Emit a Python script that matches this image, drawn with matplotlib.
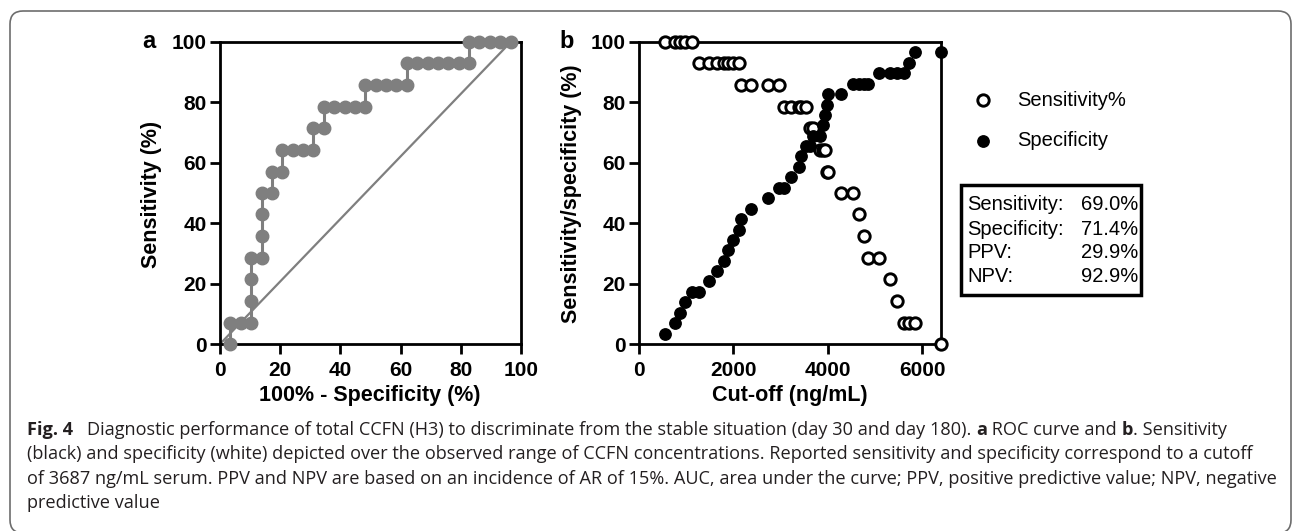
import matplotlib.pyplot as plt
from matplotlib.patches import FancyBboxPatch, Rectangle
from matplotlib.transforms import IdentityTransform

# ROC curve (panel a): 100% - specificity vs sensitivity
roc_fpr = [3.45, 3.45, 6.9, 10.3, 10.3, 10.3, 10.3, 13.8, 13.8, 13.8, 13.8, 17.2, 17.2,
           20.7, 20.7, 24.1, 27.6, 31.0, 31.0, 34.5, 34.5, 37.9, 41.4, 44.8, 48.3, 48.3,
           51.7, 55.2, 58.6, 62.1, 62.1, 65.5, 69.0, 72.4, 75.9, 79.3, 82.8, 82.8, 86.2,
           89.7, 93.1, 96.6]
roc_tpr = [0, 7.1, 7.1, 7.1, 14.3, 21.4, 28.6, 28.6, 35.7, 42.9, 50, 50, 57.1,
           57.1, 64.3, 64.3, 64.3, 64.3, 71.4, 71.4, 78.6, 78.6, 78.6, 78.6, 78.6, 85.7,
           85.7, 85.7, 85.7, 85.7, 92.9, 92.9, 92.9, 92.9, 92.9, 92.9, 92.9, 100, 100,
           100, 100, 100]

# panel b: cut-off values (ng/mL) with sensitivity and specificity (%)
cutoffs = [545, 758, 864, 977, 1126, 1274, 1487, 1657, 1798, 1876, 1997, 2110, 2152,
           2372, 2740, 2967, 3073, 3221, 3391, 3427, 3533, 3625, 3696, 3837, 3908, 3944,
           3979, 4014, 4283, 4545, 4652, 4758, 4843, 5091, 5324, 5466, 5607, 5714, 5855,
           6390]
sensitivity = [100, 100, 100, 100, 100, 92.9, 92.9, 92.9, 92.9, 92.9, 92.9, 92.9, 85.7,
               85.7, 85.7, 85.7, 78.6, 78.6, 78.6, 78.6, 78.6, 71.4, 71.4, 64.3, 64.3, 64.3,
               57.1, 57.1, 50, 50, 42.9, 35.7, 28.6, 28.6, 21.4, 14.3, 7.1, 7.1, 7.1, 0]
specificity = [3.4, 6.9, 10.3, 13.8, 17.2, 17.2, 20.7, 24.1, 27.6, 31.0, 34.5, 37.9, 41.4,
               44.8, 48.3, 51.7, 51.7, 55.2, 58.6, 62.1, 65.5, 65.5, 69.0, 69.0, 72.4, 75.9,
               79.3, 82.8, 82.8, 86.2, 86.2, 86.2, 86.2, 89.7, 89.7, 89.7, 89.7, 93.1, 96.6,
               96.6]

stats_names = ["Sensitivity:", "Specificity:", "PPV:", "NPV:"]
stats_values = ["69.0%", "71.4%", "29.9%", "92.9%"]

W, H = 1293, 531
plt.rcParams["font.family"] = ["Liberation Sans", "DejaVu Sans"]
fig = plt.figure(figsize=(W / 100, H / 100), dpi=100)


def px(x0, y0, x1, y1):
    return [x0 / W, 1 - y1 / H, (x1 - x0) / W, (y1 - y0) / H]


def at(x, y):
    # pixel position (from top-left) -> figure fraction
    return x / W, 1 - y / H


def style_axes(ax):
    for s in ax.spines.values():
        s.set_linewidth(2)
    ax.tick_params(axis="both", direction="out", length=7.5, width=2, labelsize=15)
    ax.tick_params(axis="x", pad=5)
    ax.tick_params(axis="y", pad=2)
    for lab in ax.get_xticklabels() + ax.get_yticklabels():
        lab.set_fontweight("bold")


grey = "#7f7f7f"
lab_kw = dict(fontsize=15.5, fontweight="bold", ha="center", va="center")

# panel a
ax1 = fig.add_axes(px(220, 42, 521, 344))
ax1.plot([0, 96.6], [0, 100], color=grey, lw=1.6)
ax1.plot(roc_fpr, roc_tpr, color=grey, lw=2.2, marker="o", ms=9, mec=grey, mfc=grey,
         clip_on=False, zorder=3)
ax1.set_xlim(0, 100)
ax1.set_ylim(0, 100)
ax1.set_xticks(range(0, 101, 20))
ax1.set_yticks(range(0, 101, 20))
style_axes(ax1)
fig.text(*at(370, 396), "100% - Specificity (%)", **lab_kw)
fig.text(*at(152, 194), "Sensitivity (%)", rotation=90, **lab_kw)
fig.text(*at(149, 41), "a", fontsize=17, fontweight="bold", ha="center", va="center")

# panel b
ax2 = fig.add_axes(px(639, 42, 941, 344))
ax2.plot(cutoffs, sensitivity, ls="none", marker="o", ms=8.2, mfc="white", mec="black",
         mew=2.1, clip_on=False, zorder=3)
ax2.plot(cutoffs, specificity, ls="none", marker="o", ms=8.2, mfc="black", mec="black",
         clip_on=False, zorder=4)
ax2.set_xlim(0, 6400)
ax2.set_ylim(0, 100)
ax2.set_xticks([0, 2000, 4000, 6000])
ax2.set_yticks(range(0, 101, 20))
style_axes(ax2)
fig.text(*at(790, 396), "Cut-off (ng/mL)", **lab_kw)
fig.text(*at(572, 194), "Sensitivity/specificity (%)", rotation=90, **lab_kw)
fig.text(*at(567, 41), "b", fontsize=17, fontweight="bold", ha="center", va="center")

# legend
fig.lines.append(plt.Line2D([983 / W], [1 - 100 / H], transform=fig.transFigure, marker="o",
                            ms=8.2, mfc="white", mec="black", mew=2.1, ls="none"))
fig.lines.append(plt.Line2D([983 / W], [1 - 141 / H], transform=fig.transFigure, marker="o",
                            ms=8.2, mfc="black", mec="black", ls="none"))
fig.text(*at(1017, 100), "Sensitivity%", fontsize=14.5, va="center", ha="left")
fig.text(*at(1017, 141), "Specificity", fontsize=14.5, va="center", ha="left")

# stats box
fig.patches.append(Rectangle((961, H - 295), 180, 110, transform=IdentityTransform(),
                             fill=False, ec="black", lw=2.5))
for i, (n, v) in enumerate(zip(stats_names, stats_values)):
    y = 205 + i * 24
    fig.text(*at(967, y), n, fontsize=14.5, va="center", ha="left")
    fig.text(*at(1138, y), v, fontsize=14.5, va="center", ha="right")

# outer frame (rounded box around figure and caption, bottom edge just cut off)
fig.patches.append(FancyBboxPatch((10, -2), 1281, H - 11 + 2, transform=IdentityTransform(),
                                  boxstyle="round,pad=0,rounding_size=13", fill=False,
                                  ec="#6d6d6d", lw=1.2))

# caption
cap_font = ["Open Sans", "DejaVu Sans"]
cap_size = 13.1
caption = [
    [("Fig. 4", "bold", 0), ("Diagnostic performance of total CCFN (H3) to discriminate from the "
                             "stable situation (day 30 and day 180). ", "normal", 14),
     ("a", "bold", 0), (" ROC curve and ", "normal", 0), ("b", "bold", 0),
     (". Sensitivity", "normal", 0)],
    [("(black) and specificity (white) depicted over the observed range of CCFN concentrations. "
      "Reported sensitivity and specificity correspond to a cutoff", "normal", 0)],
    [("of 3687 ng/mL serum. PPV and NPV are based on an incidence of AR of 15%. AUC, area under "
      "the curve; PPV, positive predictive value; NPV, negative", "normal", 0)],
    [("predictive value", "normal", 0)],
]
renderer = fig.canvas.get_renderer()
for i, line in enumerate(caption):
    x = 27
    y = 430 + i * 24.3
    for s, w, gap in line:
        x += gap
        t = fig.text(*at(x, y), s, fontsize=cap_size, fontweight=w, family=cap_font,
                     va="center", ha="left", color="#231f20")
        x += t.get_window_extent(renderer).width

fig.savefig("out.png", dpi=100)
